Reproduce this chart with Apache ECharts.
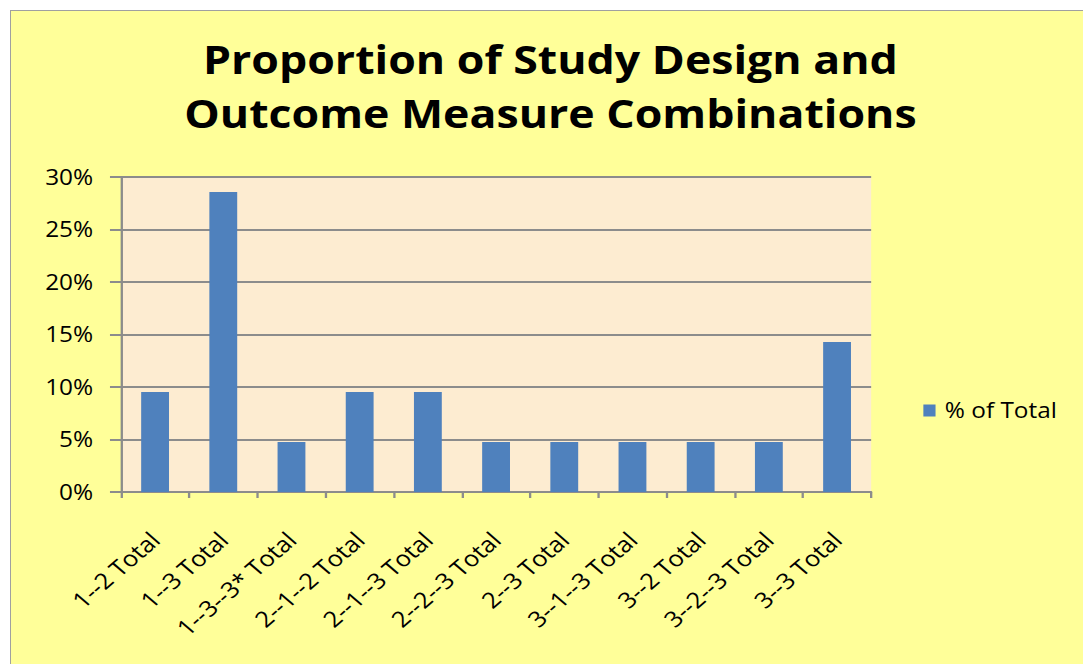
<!DOCTYPE html>
<html>
<head>
<meta charset="utf-8">
<script src="https://cdn.jsdelivr.net/npm/echarts@6/dist/echarts.min.js"></script>
<style>
  html, body { margin: 0; padding: 0; background: #ffffff; width: 1083px; height: 664px; overflow: hidden; }
  #frame { position: absolute; left: 10px; top: 10px; width: 1090px; height: 680px; background: #FFFF99; border: 1px solid #a0a0a0; }
  #chart { position: absolute; left: 0; top: 0; width: 934px; height: 664px; transform: scaleX(1.16); transform-origin: 0 0; }
</style>
</head>
<body>
<div id="frame"></div>
<div id="chart"></div>
<script>
const titleText = 'Proportion of Study Design and\nOutcome Measure Combinations';
const categories = ['1--2 Total', '1--3 Total', '1--3--3* Total', '2--1--2 Total', '2--1--3 Total', '2--2--3 Total', '2--3 Total', '3--1--3 Total', '3--2 Total', '3--2--3 Total', '3--3 Total'];
const seriesName = '% of Total';
const values = [0.0952, 0.2857, 0.0476, 0.0952, 0.0952, 0.0476, 0.0476, 0.0476, 0.0476, 0.0476, 0.1429];
const yTicks = { min: 0, max: 0.30, interval: 0.05 };

const FONT = '"Open Sans", Lato, sans-serif';
const chart = echarts.init(document.getElementById('chart'), null, { renderer: 'svg' });
chart.setOption({
  backgroundColor: 'transparent',
  animation: false,
  title: {
    text: titleText,
    left: 469.5,
    textAlign: 'center',
    top: 27,
    textStyle: { fontFamily: FONT, fontWeight: 'bold', fontSize: 38.5, lineHeight: 54, color: '#000' }
  },
  legend: {
    data: [seriesName],
    left: 791,
    top: 395,
    icon: 'rect',
    itemWidth: 10.5,
    itemHeight: 12,
    itemGap: 10,
    textStyle: { fontFamily: FONT, fontSize: 21, color: '#000', padding: [0, 0, 0, 3] }
  },
  grid: { left: 104.3, top: 177, right: 183, bottom: 172, containLabel: false, show: true, backgroundColor: '#FDECD1', borderWidth: 0 },
  xAxis: {
    type: 'category',
    data: categories,
    axisLine: { lineStyle: { color: '#8c8c8c', width: 2 } },
    axisTick: { show: true, length: 6, lineStyle: { color: '#8c8c8c', width: 2 } },
    axisLabel: { rotate: 45, margin: 44, fontFamily: FONT, fontSize: 22, color: '#000', interval: 0 }
  },
  yAxis: {
    type: 'value',
    min: yTicks.min, max: yTicks.max, interval: yTicks.interval,
    axisLine: { show: true, lineStyle: { color: '#8c8c8c', width: 2 } },
    axisTick: { show: true, length: 9.5, lineStyle: { color: '#8c8c8c', width: 2 } },
    splitLine: { show: true, lineStyle: { color: '#8c8c8c', width: 2 } },
    axisLabel: { margin: 24, fontFamily: FONT, fontSize: 21, color: '#000',
      formatter: v => Math.round(v * 100) + '%' }
  },
  series: [{
    name: seriesName,
    type: 'bar',
    data: values,
    barWidth: 24,
    itemStyle: { color: '#4F81BD' }
  }]
});
</script>
</body>
</html>
